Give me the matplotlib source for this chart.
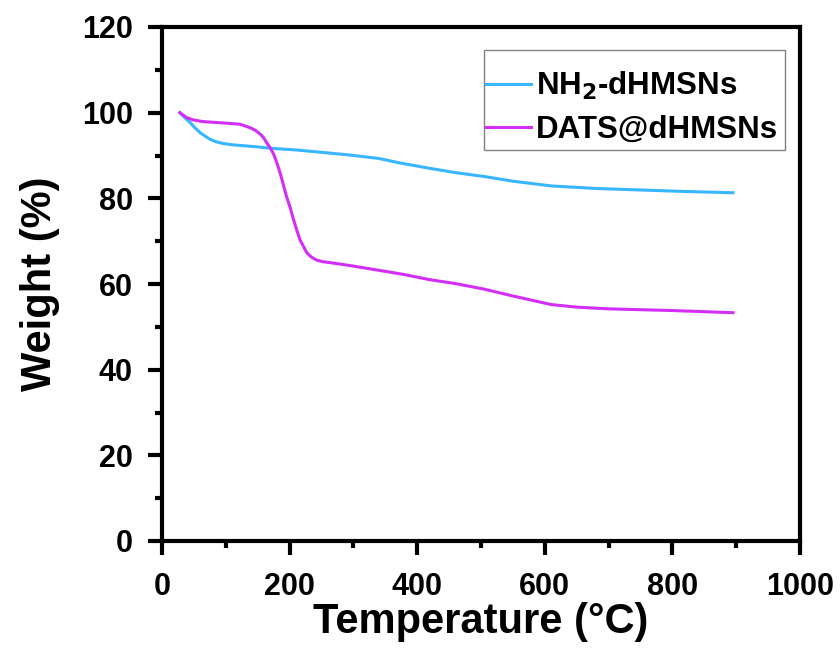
import matplotlib
matplotlib.use("Agg")
import matplotlib.pyplot as plt
from matplotlib.ticker import MultipleLocator
from matplotlib.patches import Rectangle

plt.rcParams['font.family'] = ['Liberation Sans', 'DejaVu Sans']
plt.rcParams['font.weight'] = 'bold'

nh2_temp = [28, 36, 44, 52, 60, 68, 75, 85, 96, 110, 127, 150, 169, 210, 260,
            295, 340, 375, 420, 460, 505, 550, 610, 680, 740, 820, 895]
nh2_weight = [100, 98.8, 97.7, 96.4, 95.3, 94.5, 93.8, 93.2, 92.8, 92.5, 92.3,
              92.0, 91.7, 91.3, 90.6, 90.1, 89.3, 88.2, 87.0, 86.0, 85.1, 84.0,
              82.9, 82.3, 82.0, 81.6, 81.3]

dats_temp = [28, 38, 49, 65, 86, 105, 122, 138, 146, 154, 159, 164, 170, 175,
             180, 185, 190, 195, 201, 206, 211, 216, 222, 227, 234, 242, 252,
             263, 295, 348, 380, 420, 460, 505, 550, 610, 650, 700, 800, 895]
dats_weight = [100, 98.9, 98.3, 97.9, 97.7, 97.5, 97.3, 96.5, 95.9, 95.0, 94.2,
               93.0, 91.7, 90.3, 88.3, 86.0, 83.3, 80.5, 77.8, 75.1, 72.7, 70.4,
               68.7, 67.3, 66.3, 65.6, 65.2, 65.0, 64.3, 63.0, 62.2, 61.0, 60.1,
               58.8, 57.2, 55.2, 54.6, 54.2, 53.8, 53.3]

labels = ['NH$_2$-dHMSNs', 'DATS@dHMSNs']

fig = plt.figure(figsize=(8.4, 6.5), dpi=100)
ax = fig.add_axes([162/840, 1 - 541/650, (800 - 162)/840, (541 - 27)/650])

ax.plot(nh2_temp, nh2_weight, color='#38B6FF', lw=2.2, label=labels[0],
        solid_joinstyle='round')
ax.plot(dats_temp, dats_weight, color='#D22EF5', lw=2.2, label=labels[1],
        solid_joinstyle='round')

ax.set_xlim(0, 1000)
ax.set_ylim(0, 120)
ax.xaxis.set_major_locator(MultipleLocator(200))
ax.xaxis.set_minor_locator(MultipleLocator(100))
ax.yaxis.set_major_locator(MultipleLocator(20))
ax.yaxis.set_minor_locator(MultipleLocator(10))
ax.tick_params(which='both', direction='out', top=False, right=False, width=3)
ax.tick_params(which='major', length=10, labelsize=22)
ax.tick_params(axis='x', which='major', pad=12)
ax.tick_params(axis='y', which='major', pad=11)
ax.tick_params(which='minor', length=5)
for lab in ax.get_xticklabels() + ax.get_yticklabels():
    lab.set_fontweight('bold')
for s in ax.spines.values():
    s.set_linewidth(3)

ax.set_xlabel('Temperature (°C)', fontsize=30, fontweight='bold', labelpad=0)
ax.set_ylabel('Weight (%)', fontsize=30, fontweight='bold', labelpad=16)

# legend frame (drawn separately for asymmetric padding)
fx0, fx1 = (484 - 162) / 638, (785 - 162) / 638
fy0, fy1 = (541 - 150) / 514, (541 - 50) / 514
ax.add_patch(Rectangle((fx0, fy0), fx1 - fx0, fy1 - fy0, transform=ax.transAxes,
                       fill=False, ec='#808080', lw=1.0, zorder=5))

leg = ax.legend(loc='upper left', bbox_to_anchor=((486 - 162)/638, (541 - 70)/514),
                borderaxespad=0, fontsize=22.5, frameon=False,
                handlelength=1.45, handletextpad=0.15, borderpad=0,
                labelspacing=0.4)
for t in leg.get_texts():
    t.set_fontweight('bold')

fig.savefig('out.png', dpi=100)
